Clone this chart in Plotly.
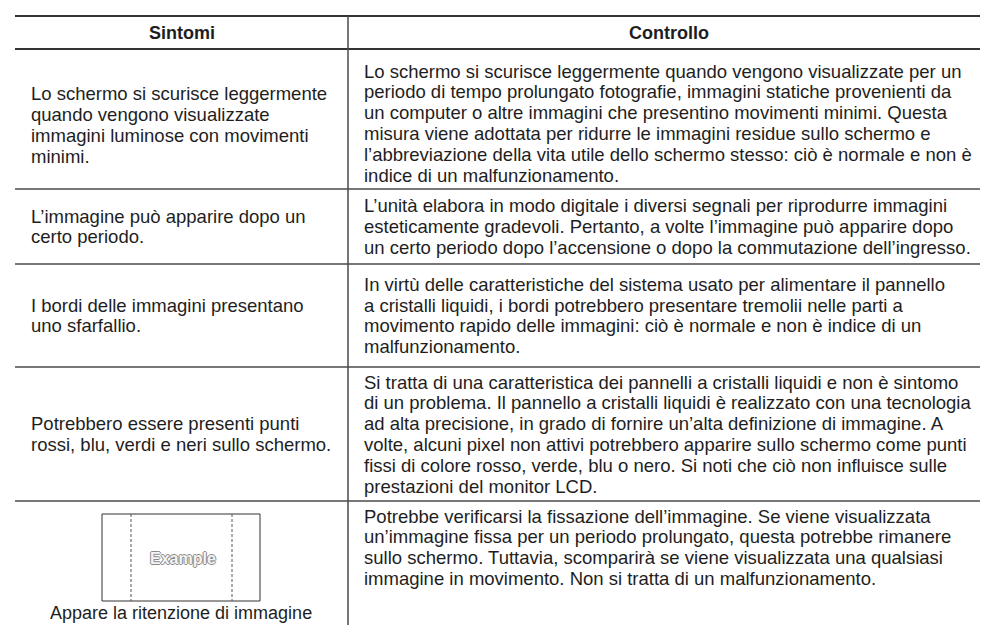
import plotly.graph_objects as go

# ---- data ----
headers = ["Sintomi", "Controllo"]

symptoms = [
    ["Lo schermo si scurisce leggermente", "quando vengono visualizzate",
     "immagini luminose con movimenti", "minimi."],
    ["L’immagine può apparire dopo un", "certo periodo."],
    ["I bordi delle immagini presentano", "uno sfarfallio."],
    ["Potrebbero essere presenti punti", "rossi, blu, verdi e neri sullo schermo."],
    [],
]

controls = [
    ["Lo schermo si scurisce leggermente quando vengono visualizzate per un",
     "periodo di tempo prolungato fotografie, immagini statiche provenienti da",
     "un computer o altre immagini che presentino movimenti minimi. Questa",
     "misura viene adottata per ridurre le immagini residue sullo schermo e",
     "l’abbreviazione della vita utile dello schermo stesso: ciò è normale e non è",
     "indice di un malfunzionamento."],
    ["L’unità elabora in modo digitale i diversi segnali per riprodurre immagini",
     "esteticamente gradevoli. Pertanto, a volte l’immagine può apparire dopo",
     "un certo periodo dopo l’accensione o dopo la commutazione dell’ingresso."],
    ["In virtù delle caratteristiche del sistema usato per alimentare il pannello",
     "a cristalli liquidi, i bordi potrebbero presentare tremolii nelle parti a",
     "movimento rapido delle immagini: ciò è normale e non è indice di un",
     "malfunzionamento."],
    ["Si tratta di una caratteristica dei pannelli a cristalli liquidi e non è sintomo",
     "di un problema. Il pannello a cristalli liquidi è realizzato con una tecnologia",
     "ad alta precisione, in grado di fornire un’alta definizione di immagine. A",
     "volte, alcuni pixel non attivi potrebbero apparire sullo schermo come punti",
     "fissi di colore rosso, verde, blu o nero. Si noti che ciò non influisce sulle",
     "prestazioni del monitor LCD."],
    ["Potrebbe verificarsi la fissazione dell’immagine. Se viene visualizzata",
     "un’immagine fissa per un periodo prolungato, questa potrebbe rimanere",
     "sullo schermo. Tuttavia, scomparirà se viene visualizzata una qualsiasi",
     "immagine in movimento. Non si tratta di un malfunzionamento."],
]

example_label = "Example"
example_caption = "Appare la ritenzione di immagine"

# ---- layout geometry (pixels) ----
W, H = 988, 625
X0, XDIV, X1 = 7, 340, 982
Y_TOP = 8
ROW_EDGES = [41, 181, 256, 359, 493]   # header bottom + row separators
RIGHT_SHIFT = [4, 0, 0, 0]
LEFT_SHIFT = [6, 0, 0, 0]
FS = 18.5
LINE = 20.8
FONT = "Liberation Sans, Arial, sans-serif"
TXT = "#1e1e1e"
LINEC = "#4a4a4a"

fig = go.Figure()
fig.add_trace(go.Scatter(x=[], y=[], showlegend=False))

shapes = []
ann = []

def hline(y, w=1.3, c=LINEC):
    shapes.append(dict(type="line", x0=X0, x1=X1, y0=y, y1=y,
                       line=dict(color=c, width=w)))

def text_lines(lines, x, yc, xanchor="left"):
    n = len(lines)
    for k, t in enumerate(lines):
        ann.append(dict(x=x, y=yc + (k - (n - 1) / 2) * LINE, text=t,
                        xanchor=xanchor, yanchor="middle", showarrow=False,
                        font=dict(size=FS, color=TXT, family=FONT)))

hline(Y_TOP, 1.8, "#333333")
hline(ROW_EDGES[0], 1.8, "#333333")
shapes.append(dict(type="line", x0=XDIV, x1=XDIV, y0=Y_TOP, y1=H,
                   line=dict(color=LINEC, width=1.5)))

yh = (Y_TOP + ROW_EDGES[0]) / 2
ann.append(dict(x=(X0 + XDIV) / 2, y=yh, text="<b>%s</b>" % headers[0],
                xanchor="center", yanchor="middle", showarrow=False,
                font=dict(size=18, color=TXT, family=FONT)))
ann.append(dict(x=(XDIV + X1) / 2, y=yh, text="<b>%s</b>" % headers[1],
                xanchor="center", yanchor="middle", showarrow=False,
                font=dict(size=18, color=TXT, family=FONT)))

for i in range(1, len(ROW_EDGES)):
    hline(ROW_EDGES[i])

for i, (sym, ctl) in enumerate(zip(symptoms, controls)):
    if i < len(ROW_EDGES) - 1:
        yc = (ROW_EDGES[i] + ROW_EDGES[i + 1]) / 2
        text_lines(ctl, XDIV + 14, yc + RIGHT_SHIFT[i])
        text_lines(sym, X0 + 14, yc + LEFT_SHIFT[i])
    else:
        top = ROW_EDGES[-1]
        first = top + 15
        text_lines(ctl, XDIV + 14, first + (len(ctl) - 1) / 2 * LINE)

# example image box in last row
top = ROW_EDGES[-1]
bx0, bx1 = 94, 252
by0, by1 = top + 13, top + 100
shapes.append(dict(type="rect", x0=bx0, x1=bx1, y0=by0, y1=by1,
                   line=dict(color="#333333", width=1)))
for dx in (123, 224):
    shapes.append(dict(type="line", x0=dx, x1=dx, y0=by0, y1=by1,
                       line=dict(color="#555555", width=1, dash="3px,2px")))
ann.append(dict(x=(bx0 + bx1) / 2 + 2, y=(by0 + by1) / 2 + 1, text="<b>%s</b>" % example_label,
                xanchor="center", yanchor="middle", showarrow=False,
                font=dict(size=16, color="#f4f4f4", family=FONT,
                          shadow="1px 0 0 #8a8a8a, -1px 0 0 #8a8a8a, 0 1px 0 #8a8a8a, 0 -1px 0 #8a8a8a")))
ann.append(dict(x=(bx0 + bx1) / 2, y=by1 + 12, text=example_caption,
                xanchor="center", yanchor="middle", showarrow=False,
                font=dict(size=18, color=TXT, family=FONT)))

fig.update_layout(
    width=W, height=H,
    margin=dict(l=0, r=0, t=0, b=0),
    paper_bgcolor="white", plot_bgcolor="white",
    xaxis=dict(range=[0, W], visible=False, fixedrange=True),
    yaxis=dict(range=[H, 0], visible=False, fixedrange=True),
    shapes=shapes, annotations=ann, showlegend=False,
)
fig.write_html("out.html")
